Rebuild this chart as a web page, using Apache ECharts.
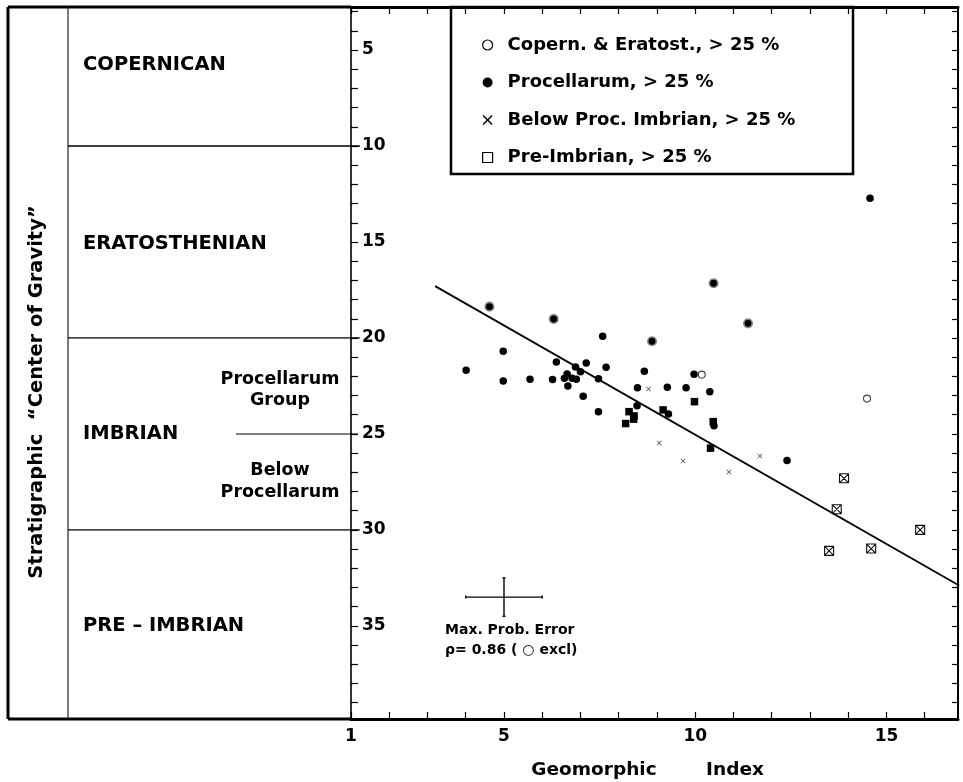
<!DOCTYPE html>
<html><head><meta charset="utf-8">
<script src="https://cdn.jsdelivr.net/npm/echarts@6/dist/echarts.min.js"></script>
<style>html,body{margin:0;padding:0;background:#fff}#c{width:963px;height:782px}</style>
</head><body><div id="c"></div>
<script>
// ---------- data ----------
const xTickValues = [1,2,3,4,5,6,7,8,9,10,11,12,13,14,15,16];
const xLabelValues = [1,5,10,15];
const yTickValues = [3,4,5,6,7,8,9,10,11,12,13,14,15,16,17,18,19,20,21,22,23,24,25,26,27,28,29,30,31,32,33,34,35,36,37,38,39];
const yLabelValues = [5,10,15,20,25,30,35];

const copernicus = [[10.17,21.91],[14.49,23.16]];
const procellarum = [[7.58,19.91],[4.98,20.69],[4.01,21.68],[4.98,22.24],[5.68,22.15],[6.27,22.17],[6.37,21.25],
  [6.65,21.88],[6.58,22.1],[6.78,22.1],[6.89,22.15],[6.67,22.5],[6.87,21.51],[7.0,21.76],[7.15,21.3],[7.67,21.53],
  [7.47,22.12],[7.07,23.04],[7.47,23.85],[8.67,21.73],[8.49,22.6],[9.27,22.57],[9.76,22.6],[9.97,21.89],[10.38,22.8],
  [8.48,23.53],[9.30,23.96],[10.49,24.57],[12.40,26.39],[14.57,12.72]];
const procellarumRinged = [[4.62,18.37],[6.30,19.01],[8.87,20.17],[10.48,17.15],[11.38,19.24]];
const procellarumSquares = [[9.98,23.32],[8.27,23.84],[8.40,24.06],[8.39,24.23],[8.18,24.46],[9.16,23.75],[10.47,24.36],[10.40,25.74]];
const belowProc = [[8.78,22.66],[9.06,25.47],[9.68,26.41],[10.88,26.98],[11.69,26.15]];
const preImbrian = [[13.89,27.31],[13.70,28.92],[15.88,30.0],[13.50,31.09],[14.60,30.97]];
const regressionLine = [[3.2,17.3],[16.9,32.9]];
const errCenter = [5.0, 33.5];
const errHalf = [1.0, 1.0];

const unitBoundaries = [10, 20, 30];
const subBoundary = 25;
const unitNames = ['COPERNICAN','ERATOSTHENIAN','IMBRIAN','PRE – IMBRIAN'];
const subUnitNames = [['Procellarum','Group'],['Below','Procellarum']];
const legendNames = ['Copern. & Eratost., > 25 %','Procellarum, > 25 %','Below Proc. Imbrian, > 25 %','Pre-Imbrian, > 25 %'];

// ---------- layout ----------
const FONT = '"DejaVu Sans", "Liberation Sans", sans-serif';
const X_SYMBOL = 'path://M0,1 L1,0 L5,4 L9,0 L10,1 L6,5 L10,9 L9,10 L5,6 L1,10 L0,9 L4,5 Z';
const BOXX_SYMBOL = 'path://M0,0 L10,0 L10,10 L0,10 Z M0,0 L10,10 M10,0 L0,10';

const chart = echarts.init(document.getElementById('c'), null, {renderer:'canvas'});
const boldText = (size) => ({fontFamily: FONT, fontWeight: 'bold', fontSize: size, color: '#000'});

const option = {
  backgroundColor: '#fff',
  animation: false,
  grid: {left: 351, top: 7, width: 607, height: 712, containLabel: false},
  xAxis: [
    {type:'value', position:'bottom', min:1, max:16.87,
      axisLine:{show:true, onZero:false, lineStyle:{color:'#000', width:3}},
      axisTick:{show:true, inside:true, length:7, customValues:xTickValues, lineStyle:{color:'#000', width:1.2}},
      axisLabel:{show:true, customValues:xLabelValues, margin:9, ...boldText(17)},
      splitLine:{show:false}},
    {type:'value', position:'top', min:1, max:16.87,
      axisLine:{show:true, onZero:false, lineStyle:{color:'#000', width:3}},
      axisTick:{show:true, inside:true, length:7, customValues:xTickValues, lineStyle:{color:'#000', width:1.2}},
      axisLabel:{show:false}, splitLine:{show:false}}
  ],
  yAxis: [
    {type:'value', position:'left', inverse:true, min:2.76, max:39.85,
      axisLine:{show:true, onZero:false, lineStyle:{color:'#000', width:1.6}},
      axisTick:{show:true, inside:true, length:7, customValues:yTickValues, lineStyle:{color:'#000', width:1.2}},
      axisLabel:{show:true, inside:true, customValues:yLabelValues, margin:11, ...boldText(17)},
      splitLine:{show:false}},
    {type:'value', position:'right', inverse:true, min:2.76, max:39.85,
      axisLine:{show:true, onZero:false, lineStyle:{color:'#000', width:2}},
      axisTick:{show:true, inside:true, length:6, customValues:yTickValues, lineStyle:{color:'#000', width:1.2}},
      axisLabel:{show:false}, splitLine:{show:false}}
  ],
  legend: {
    orient:'vertical', left:477, top:30, itemWidth:10, itemHeight:10, itemGap:17.5,
    selectedMode:false,
    textStyle:{...boldText(18), lineHeight:20, padding:[0,0,0,10]},
    data:[
      {name:legendNames[0], icon:'circle', itemStyle:{color:'#fff', borderColor:'#000', borderWidth:1.2, opacity:1}},
      {name:legendNames[1], icon:'circle', itemStyle:{color:'#000', opacity:1}},
      {name:legendNames[2], icon:X_SYMBOL, itemStyle:{color:'#000', opacity:1}},
      {name:legendNames[3], icon:'rect', itemStyle:{color:'#fff', borderColor:'#000', borderWidth:1.2, opacity:1}}
    ]
  },
  series: [
    {name:'regression', type:'line', data:regressionLine, symbol:'none', silent:true,
      lineStyle:{color:'#000', width:1.8}, z:2},
    {name:'error', type:'custom', data:[[errCenter[0], errCenter[1], errHalf[0], errHalf[1]]],
      renderItem:(params, api) => {
        const x = api.value(0), y = api.value(1), dx = api.value(2), dy = api.value(3);
        const l = api.coord([x-dx, y]), r = api.coord([x+dx, y]);
        const t = api.coord([x, y-dy]), b = api.coord([x, y+dy]);
        const st = {stroke:'#000', lineWidth:1.4};
        return {type:'group', children:[
          {type:'line', shape:{x1:l[0], y1:l[1], x2:r[0], y2:r[1]}, style:st},
          {type:'line', shape:{x1:t[0], y1:t[1], x2:b[0], y2:b[1]}, style:st},
          {type:'line', shape:{x1:l[0], y1:l[1]-1.5, x2:l[0], y2:l[1]+1.5}, style:st},
          {type:'line', shape:{x1:r[0], y1:r[1]-1.5, x2:r[0], y2:r[1]+1.5}, style:st},
          {type:'line', shape:{x1:t[0]-1.5, y1:t[1], x2:t[0]+1.5, y2:t[1]}, style:st},
          {type:'line', shape:{x1:b[0]-1.5, y1:b[1], x2:b[0]+1.5, y2:b[1]}, style:st}
        ]};
      }, z:2},
    {name:legendNames[0], type:'scatter', data:copernicus, symbol:'circle', symbolSize:7,
      itemStyle:{color:'#fff', borderColor:'#444', borderWidth:1.1, opacity:1}, z:4},
    {name:legendNames[1], type:'scatter', data:procellarum, symbol:'circle', symbolSize:7.5,
      itemStyle:{color:'#000', opacity:1}, z:4},
    {name:'ringed', type:'scatter', data:procellarumRinged, symbol:'circle', symbolSize:8.5,
      itemStyle:{color:'#000', borderColor:'#8a8a8a', borderWidth:1.6, opacity:1}, z:4},
    {name:'squares', type:'scatter', data:procellarumSquares, symbol:'rect', symbolSize:7.5,
      itemStyle:{color:'#000', opacity:1}, z:4},
    {name:legendNames[2], type:'scatter', data:belowProc, symbol:X_SYMBOL, symbolSize:5,
      itemStyle:{color:'#444', opacity:1}, z:4},
    {name:legendNames[3], type:'scatter', data:preImbrian, symbol:BOXX_SYMBOL, symbolSize:9,
      itemStyle:{color:'rgba(0,0,0,0)', borderColor:'#111', borderWidth:1.1, opacity:1}, z:4}
  ]
};
chart.setOption(option);

// ---------- decorations positioned via the axis scales ----------
const yPx = (v) => chart.convertToPixel({yAxisIndex:0}, v);
const axisX = chart.convertToPixel({xAxisIndex:0}, 1);
const frameLeft = 8, frameTop = 7, frameBottom = yPx(39.85);
const dividerX = 68;
const g = [];
g.push({type:'line', shape:{x1:frameLeft, y1:frameTop, x2:frameLeft, y2:frameBottom}, style:{stroke:'#000', lineWidth:3}, z:10});
g.push({type:'line', shape:{x1:frameLeft, y1:frameTop, x2:axisX, y2:frameTop}, style:{stroke:'#000', lineWidth:3}, z:10});
g.push({type:'line', shape:{x1:frameLeft, y1:frameBottom, x2:axisX, y2:frameBottom}, style:{stroke:'#000', lineWidth:3}, z:10});
g.push({type:'line', shape:{x1:dividerX, y1:frameTop, x2:dividerX, y2:frameBottom}, style:{stroke:'#222', lineWidth:1.2}, z:10});
unitBoundaries.forEach(v => {
  const y = yPx(v);
  g.push({type:'line', shape:{x1:dividerX, y1:y, x2:axisX+9, y2:y}, style:{stroke:'#000', lineWidth:1.3}, z:10});
});
{
  const y = yPx(subBoundary);
  g.push({type:'line', shape:{x1:236, y1:y, x2:axisX+7, y2:y}, style:{stroke:'#000', lineWidth:1.1}, z:10});
}
const unitLabelY = [5.8, 15.1, 25.0, 35.0];
unitNames.forEach((n, i) => {
  g.push({type:'text', x:83, y:yPx(unitLabelY[i]), style:{text:n, ...boldText(19.5), fill:'#000', align:'left', verticalAlign:'middle'}, z:10});
});
const subLabelY = [[22.14, 23.23], [26.9, 28.07]];
subUnitNames.forEach((pair, i) => {
  pair.forEach((n, j) => {
    g.push({type:'text', x:280, y:yPx(subLabelY[i][j]), style:{text:n, ...boldText(17.5), fill:'#000', align:'center', verticalAlign:'middle'}, z:10});
  });
});
// axis titles
g.push({type:'text', x:37, y:392, rotation:Math.PI/2,
  style:{text:'Stratigraphic  “Center of Gravity”', ...boldText(19.5), fill:'#000', align:'center', verticalAlign:'middle'}, z:10});
g.push({type:'text', x:594, y:770, style:{text:'Geomorphic', ...boldText(18.5), fill:'#000', align:'center', verticalAlign:'middle'}, z:10});
g.push({type:'text', x:735, y:770, style:{text:'Index', ...boldText(18.5), fill:'#000', align:'center', verticalAlign:'middle'}, z:10});
// legend box
g.push({type:'rect', shape:{x:451, y:frameTop, width:402, height:167}, style:{fill:'none', stroke:'#000', lineWidth:2.5}, z:10});
// error annotation
g.push({type:'text', x:445, y:630, style:{text:'Max. Prob. Error', ...boldText(14), fill:'#000', align:'left', verticalAlign:'middle'}, z:10});
g.push({type:'text', x:445, y:650, style:{text:'ρ= 0.86 ( ○ excl)', ...boldText(14), fill:'#000', align:'left', verticalAlign:'middle'}, z:10});

chart.setOption({graphic: g});
</script>
</body></html>
